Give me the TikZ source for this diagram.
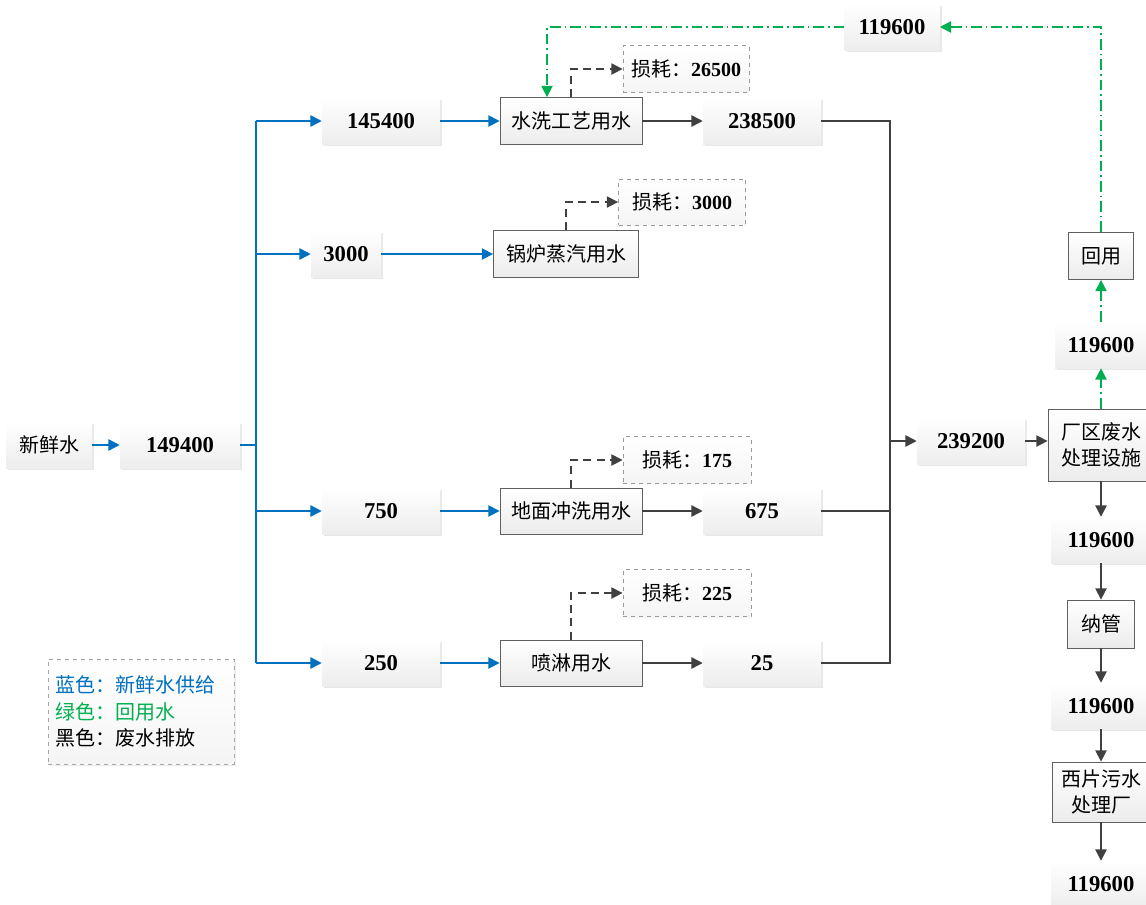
\documentclass[tikz,border=0pt]{standalone}
\usepackage{fontspec}
\setmainfont{Liberation Serif}
\newfontfamily\cjk{Noto Sans CJK SC}
\usetikzlibrary{arrows.meta,shadows}
\definecolor{cblue}{RGB}{0,112,192}
\definecolor{cgreen}{RGB}{0,176,80}
\definecolor{cdark}{RGB}{64,64,64}
\tikzset{
  sz/.style 2 args={minimum width=#1*0.75pt, minimum height=#2*0.75pt, inner sep=0pt},
  numbox/.style={top color=white, bottom color=gray!14, drop shadow={shadow xshift=1.5pt, shadow yshift=-1.5pt, fill=gray!35}, font=\fontsize{17pt}{20pt}\selectfont\bfseries},
  procbox/.style={draw=gray!75!black, line width=0.6pt, top color=white, bottom color=gray!15, font=\fontsize{15pt}{19pt}\cjk, align=center},
  lossbox/.style={draw=gray!80, dashed, line width=0.6pt, top color=white, bottom color=gray!8, font=\fontsize{15pt}{19pt}\selectfont},
  tip/.style={-{Triangle[length=8.5pt,width=8.5pt]}},
  barr/.style={draw=cblue, line width=1.1pt, tip},
  bline/.style={draw=cblue, line width=1.1pt},
  karr/.style={draw=cdark, line width=1.1pt, tip},
  kline/.style={draw=cdark, line width=1.1pt},
  larr/.style={draw=cdark, line width=1.1pt, dash pattern=on 6pt off 4pt, tip},
  garr/.style={draw=cgreen, line width=1.1pt, dash pattern=on 8pt off 3pt on 1.2pt off 3pt, tip},
}
\newcommand\ls[1]{{\cjk 损耗：}\textbf{#1}}
\begin{document}
\begin{tikzpicture}[x=0.75pt,y=-0.75pt]
\useasboundingbox (0,0) rectangle (1146,904);
% left
\node[numbox,sz={86}{46},font=\fontsize{15pt}{19pt}\cjk] (n0) at (49,445) {新鲜水};
\node[numbox,sz={120}{46}] (n1) at (180,445) {149400};
\node[numbox,sz={118}{46}] (a1) at (381,121) {145400};
\node[numbox,sz={70}{46}] (a2) at (346,254) {3000};
\node[numbox,sz={118}{46}] (a3) at (381,511) {750};
\node[numbox,sz={118}{46}] (a4) at (381,663) {250};
% process
\node[procbox,sz={142}{47}] (p1) at (571,121) {水洗工艺用水};
\node[procbox,sz={145}{47}] (p2) at (566,254) {锅炉蒸汽用水};
\node[procbox,sz={142}{46}] (p3) at (571,511) {地面冲洗用水};
\node[procbox,sz={142}{46}] (p4) at (571,663) {喷淋用水};
% outputs
\node[numbox,sz={118}{46}] (o1) at (762,121) {238500};
\node[numbox,sz={118}{46}] (o3) at (762,511) {675};
\node[numbox,sz={118}{46}] (o4) at (762,663) {25};
% losses
\node[lossbox,sz={126}{47}] (l1) at (686,69) {\ls{26500}};
\node[lossbox,sz={127}{46}] (l2) at (682,202) {\ls{3000}};
\node[lossbox,sz={128}{47}] (l3) at (687,460) {\ls{175}};
\node[lossbox,sz={128}{47}] (l4) at (687,593) {\ls{225}};
% right
\node[numbox,sz={108}{46}] (m) at (971,441) {239200};
\node[procbox,sz={106}{72}] (t) at (1101,445) {厂区废水\\处理设施};
\node[numbox,sz={92}{46}] (r1) at (1101,345) {119600};
\node[procbox,sz={65}{47}] (h) at (1101,256) {回用};
\node[numbox,sz={95}{46}] (top) at (892,27) {119600};
\node[numbox,sz={100}{46}] (d1) at (1101,540) {119600};
\node[procbox,sz={67}{48}] (ng) at (1101,624) {纳管};
\node[numbox,sz={100}{46}] (d2) at (1101,706) {119600};
\node[procbox,sz={98}{60}] (xp) at (1101,792) {西片污水\\处理厂};
\node[numbox,sz={100}{46}] (d3) at (1101,884) {119600};
% legend
\node[draw=gray!70, dashed, line width=0.6pt, top color=white, bottom color=gray!8, drop shadow={shadow xshift=1.2pt, shadow yshift=-1.2pt, fill=gray!25}, sz={186}{105}] (lg) at (141,711.5) {};
\node[anchor=west, inner sep=0pt, font=\fontsize{15pt}{19pt}\cjk, text=cblue] (lg1) at (55,685) {蓝色：新鲜水供给};
\node[anchor=west, inner sep=0pt, font=\fontsize{15pt}{19pt}\cjk, text=cgreen] (lg2) at (55,712) {绿色：回用水};
\node[anchor=west, inner sep=0pt, font=\fontsize{15pt}{19pt}\cjk, text=black] (lg3) at (55,738) {黑色：废水排放};
% blue
\coordinate (tt) at (256,121);
\coordinate (tm) at (256,445);
\coordinate (tb) at (256,663);
\draw[barr] (n0) -- (n1);
\draw[bline] (n1.east) -- (tm);
\draw[bline] (tt) -- (tb);
\draw[barr] (tt) -- (a1.west);
\draw[barr] (256,254) -- (a2.west);
\draw[barr] (256,511) -- (a3.west);
\draw[barr] (tb) -- (a4.west);
\draw[barr] (a1) -- (p1);
\draw[barr] (a2) -- (p2);
\draw[barr] (a3) -- (p3);
\draw[barr] (a4) -- (p4);
% black
\draw[karr] (p1) -- (o1);
\draw[karr] (p3) -- (o3);
\draw[karr] (p4) -- (o4);
\coordinate (ct) at (890,121);
\coordinate (cb) at (890,663);
\coordinate (cm) at (890,441);
\draw[kline] (o1.east) -- (ct) -- (cb) -- (o4.east);
\draw[kline] (o3.east) -- (890,511);
\draw[karr] (cm) -- (m.west);
\draw[karr] (m) -- (t.west |- m);
\draw[karr] (t) -- (d1);
\draw[karr] (d1) -- (ng);
\draw[karr] (ng) -- (d2);
\draw[karr] (d2) -- (xp);
\draw[karr] (xp) -- (d3);
% losses
\draw[larr] (p1.north) |- (l1.west);
\draw[larr] (p2.north) |- (l2.west);
\draw[larr] (p3.north) |- (l3.west);
\draw[larr] (p4.north) |- (l4.west);
% green
\draw[garr] (t.north) -- (r1.south);
\draw[garr] (r1) -- (h);
\coordinate (gr) at (1101,27);
\coordinate (gl) at (547,27);
\draw[garr] (h.north) -- (gr) -- (top.east);
\draw[garr] (top.west) -- (gl) -- (gl |- p1.north);
\end{tikzpicture}
\end{document}
